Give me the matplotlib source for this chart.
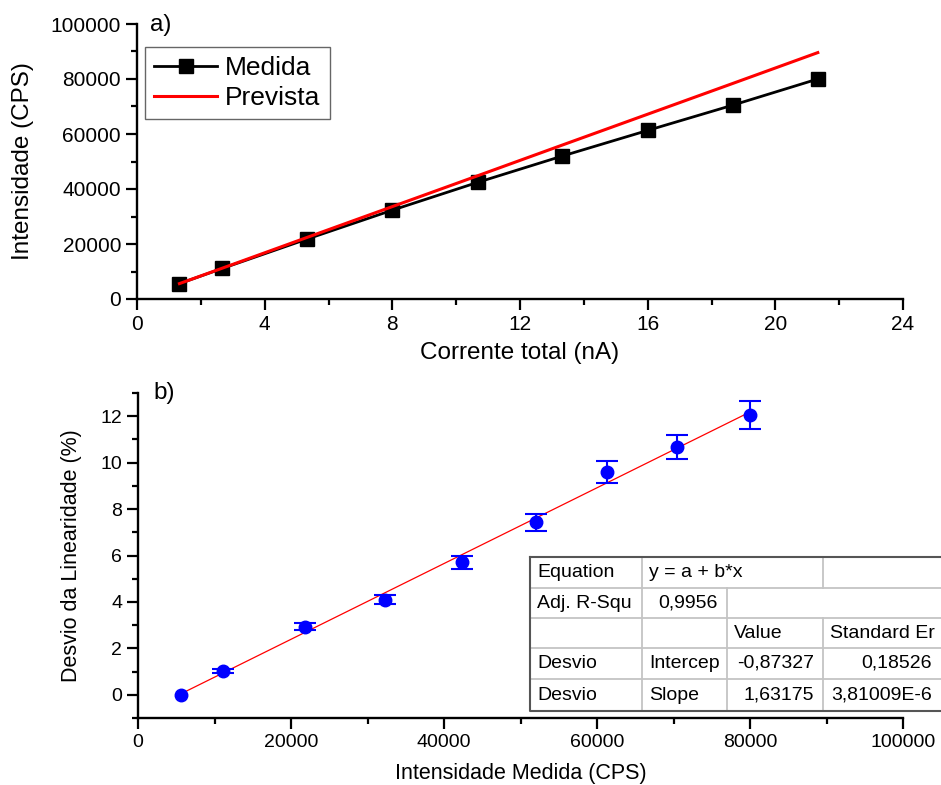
import matplotlib
matplotlib.use("Agg")
import matplotlib.pyplot as plt
from matplotlib.ticker import MultipleLocator
import numpy as np

plt.rcParams['font.family'] = ['Liberation Sans', 'DejaVu Sans']

# ---- data (a) ----
corrente = [1.33, 2.67, 5.33, 8.00, 10.67, 13.33, 16.00, 18.67, 21.33]
medida = [5600, 11100, 21800, 32300, 42400, 52000, 61300, 70500, 80000]
prevista = [5600, 11200, 22400, 33600, 44800, 56000, 67200, 78400, 89600]

# ---- data (b) ----
desvio = [0.0, 1.03, 2.93, 4.09, 5.71, 7.43, 9.58, 10.66, 12.07]
desvio_err = [0.0, 0.07, 0.15, 0.20, 0.29, 0.37, 0.47, 0.52, 0.60]
fit_intercept = -0.87327
fit_slope = 1.63175e-4

# ---- fit table ----
table_rows = [
    ["Equation", "y = a + b*x", "", ""],
    ["Adj. R-Squ", "0,9956", "", ""],
    ["", "", "Value", "Standard Er"],
    ["Desvio", "Intercep", "-0,87327", "0,18526"],
    ["Desvio", "Slope", "1,63175", "3,81009E-6"],
]
table_align = [
    ["l", "l", "l", "l"],
    ["l", "r", "l", "l"],
    ["l", "l", "l", "l"],
    ["l", "l", "r", "r"],
    ["l", "l", "r", "r"],
]

W, H = 941, 785
fig = plt.figure(figsize=(W / 100, H / 100), dpi=100)


def style_axes(ax):
    for s in ['top', 'right']:
        ax.spines[s].set_visible(False)
    for s in ['left', 'bottom']:
        ax.spines[s].set_linewidth(1.7)
    ax.tick_params(which='major', direction='out', length=8, width=1.6)
    ax.tick_params(which='minor', direction='out', length=4.5, width=1.6)


# ---- top panel ----
ax1 = fig.add_axes([137 / W, 1 - 299 / H, 766 / W, 275 / H])
style_axes(ax1)
ax1.plot(corrente, medida, color='black', lw=2, marker='s', ms=10,
         label='Medida')
ax1.plot(corrente, prevista, color='#ff0000', lw=2.2, label='Prevista')
ax1.set_xlim(0, 24)
ax1.set_ylim(0, 100000)
ax1.xaxis.set_major_locator(MultipleLocator(4))
ax1.xaxis.set_minor_locator(MultipleLocator(2))
ax1.yaxis.set_major_locator(MultipleLocator(20000))
ax1.yaxis.set_minor_locator(MultipleLocator(10000))
ax1.tick_params(labelsize=15)
ax1.set_xlabel('Corrente total (nA)', fontsize=17.5, labelpad=6)
ax1.set_ylabel('Intensidade (CPS)', fontsize=17.5, labelpad=12)
leg = ax1.legend(loc='upper left', bbox_to_anchor=(0.010, 0.916),
                 borderaxespad=0, fontsize=19, fancybox=False, numpoints=1,
                 handlelength=2.4, handletextpad=0.3, borderpad=0.35,
                 labelspacing=0.22)
leg.get_frame().set_edgecolor('#404040')
leg.get_frame().set_linewidth(1.0)
ax1.text(0.017, 0.997, 'a)', transform=ax1.transAxes, fontsize=17.5,
         ha='left', va='center')

# ---- bottom panel ----
ax2 = fig.add_axes([138 / W, 1 - 718 / H, 765 / W, 325 / H])
style_axes(ax2)
xfit = np.array([min(medida), max(medida)])
ax2.plot(xfit, fit_intercept + fit_slope * xfit, color='#ff0000', lw=0.9,
         zorder=2)
ax2.plot(medida, desvio, 'o', color='#0000ff', ms=9, zorder=3)
# error bars only where there is an error to show
has_err = [i for i, e in enumerate(desvio_err) if e > 0]
ax2.errorbar([medida[i] for i in has_err], [desvio[i] for i in has_err],
             yerr=[desvio_err[i] for i in has_err], fmt='none',
             ecolor='#0000ff', elinewidth=1.5, capsize=8, capthick=1.5,
             zorder=3)
ax2.set_xlim(0, 100000)
ax2.set_ylim(-1, 13)
ax2.xaxis.set_major_locator(MultipleLocator(20000))
ax2.xaxis.set_minor_locator(MultipleLocator(10000))
ax2.yaxis.set_major_locator(MultipleLocator(2))
ax2.yaxis.set_minor_locator(MultipleLocator(1))
ax2.tick_params(labelsize=14)
ax2.set_xlabel('Intensidade Medida (CPS)', fontsize=15.5, labelpad=9)
ax2.set_ylabel('Desvio da Linearidade (%)', fontsize=15.5, labelpad=13)
ax2.text(0.02, 1.0, 'b)', transform=ax2.transAxes, fontsize=17.5,
         ha='left', va='center')

# ---- table overlay (pixel coordinates) ----
tab = fig.add_axes([0, 0, 1, 1], facecolor='none')
tab.set_xlim(0, W)
tab.set_ylim(H, 0)
tab.axis('off')
col_x = [530, 642, 727, 823, 946]
row_y = [557, 588, 618, 648, 679, 711]
tab.fill_between([col_x[0], col_x[-1]], row_y[0], row_y[-1], color='white',
                 zorder=1)
inner = '#c4c4c4'
for y in row_y[1:-1]:
    tab.plot([col_x[0], col_x[-1]], [y, y], color=inner, lw=1.3, zorder=2)
row_vlines = [[1, 3], [1, 2], [1, 2, 3], [1, 2, 3], [1, 2, 3]]
for r, cols in enumerate(row_vlines):
    for c in cols:
        tab.plot([col_x[c], col_x[c]], [row_y[r], row_y[r + 1]],
                 color=inner, lw=1.3, zorder=2)
tab.plot([col_x[0], col_x[-1], col_x[-1], col_x[0], col_x[0]],
         [row_y[0], row_y[0], row_y[-1], row_y[-1], row_y[0]],
         color='#555555', lw=1.5, zorder=3)
for r, row in enumerate(table_rows):
    yc = (row_y[r] + row_y[r + 1]) / 2
    for c, txt in enumerate(row):
        if not txt:
            continue
        right = col_x[c + 1] if c < 3 else 941
        if table_align[r][c] == 'l':
            tab.text(col_x[c] + 7, yc, txt, fontsize=14, ha='left',
                     va='center', zorder=4)
        else:
            tab.text(right - 9, yc, txt, fontsize=14, ha='right',
                     va='center', zorder=4)

fig.savefig('out.png', dpi=100)
